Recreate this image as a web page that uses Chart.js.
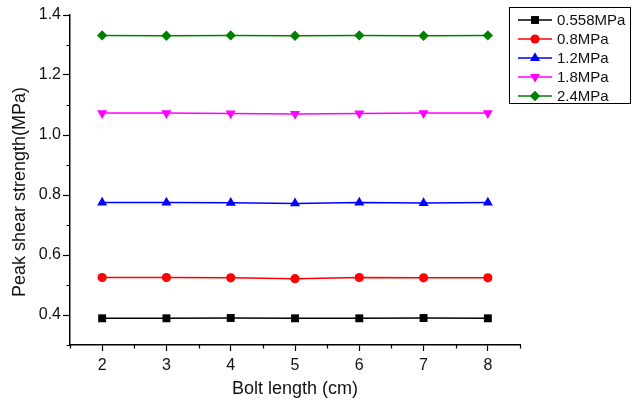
<!DOCTYPE html>
<html>
<head>
<meta charset="utf-8">
<script src="https://cdn.jsdelivr.net/npm/chart.js@4.4.1/dist/chart.umd.min.js"></script>
<style>
  html, body { margin: 0; padding: 0; background: #fff; }
  #wrap { width: 638px; height: 401px; position: relative; }
</style>
</head>
<body>
<div id="wrap"><canvas id="c"></canvas></div>
<script>
// bolt length on the x axis (cm)
const boltLengths = [2, 3, 4, 5, 6, 7, 8];

// peak shear strength (MPa) for each normal stress level
const s0558 = [0.389, 0.389, 0.390, 0.389, 0.389, 0.390, 0.389];
const s08   = [0.525, 0.525, 0.524, 0.521, 0.525, 0.524, 0.524];
const s12   = [0.775, 0.775, 0.774, 0.772, 0.775, 0.773, 0.775];
const s18   = [1.073, 1.073, 1.072, 1.070, 1.072, 1.073, 1.073];
const s24   = [1.332, 1.331, 1.332, 1.331, 1.332, 1.331, 1.332];

const seriesNames = ['0.558MPa', '0.8MPa', '1.2MPa', '1.8MPa', '2.4MPa'];
const seriesValues = [s0558, s08, s12, s18, s24];
const seriesColors = ['#000000', '#ff0000', '#0000ff', '#ff00ff', '#008000'];
const seriesMarkers = [
  { style: 'rect', radius: 5.6, rotation: 0 },
  { style: 'circle', radius: 4.6, rotation: 0 },
  { style: 'triangle', radius: 5.8, rotation: 0 },
  { style: 'triangle', radius: 5.8, rotation: 180 },
  { style: 'rectRot', radius: 5.2, rotation: 0 }
];

const yTitle = 'Peak shear strength(MPa)';
const xTitle = 'Bolt length (cm)';

const FONT = 'Arial, "Liberation Sans", sans-serif';

const datasets = seriesNames.map((name, i) => ({
  label: name,
  data: boltLengths.map((x, j) => ({ x: x, y: seriesValues[i][j] })),
  borderColor: seriesColors[i],
  backgroundColor: seriesColors[i],
  borderWidth: 1.5,
  pointStyle: seriesMarkers[i].style,
  pointRadius: seriesMarkers[i].radius,
  pointRotation: seriesMarkers[i].rotation,
  pointBorderWidth: 0,
  pointHoverRadius: seriesMarkers[i].radius,
  tension: 0
}));

const isMajorX = v => Math.abs(v - Math.round(v)) < 1e-6;
const isMajorY = v => Math.round(v * 10) % 2 === 0;

// short minor ticks drawn outside the axes
const minorTicks = {
  id: 'minorTicks',
  afterDraw(chart) {
    const ctx = chart.ctx;
    const xs = chart.scales.x, ys = chart.scales.y;
    ctx.save();
    ctx.strokeStyle = '#000';
    ctx.lineWidth = 1.2;
    ctx.beginPath();
    xs.ticks.forEach(t => {
      if (!isMajorX(t.value)) {
        const px = Math.round(xs.getPixelForValue(t.value)) + 0.5;
        ctx.moveTo(px, xs.top);
        ctx.lineTo(px, xs.top + 3.5);
      }
    });
    ys.ticks.forEach(t => {
      if (!isMajorY(t.value)) {
        const py = Math.round(ys.getPixelForValue(t.value)) + 0.5;
        ctx.moveTo(ys.right - 3.5, py);
        ctx.lineTo(ys.right, py);
      }
    });
    ctx.stroke();
    ctx.restore();
  }
};

// vertical axis title, sitting a little below the middle of the axis
const yAxisTitle = {
  id: 'yAxisTitle',
  afterDraw(chart) {
    const ctx = chart.ctx;
    ctx.save();
    ctx.translate(20, 192);
    ctx.rotate(-Math.PI / 2);
    ctx.font = '18px ' + FONT;
    ctx.fillStyle = '#111';
    ctx.textAlign = 'center';
    ctx.textBaseline = 'middle';
    ctx.fillText(yTitle, 0, 0);
    ctx.restore();
  }
};

// boxed legend in the upper right corner
const boxLegend = {
  id: 'boxLegend',
  afterDraw(chart) {
    const ctx = chart.ctx;
    const box = { x: 509.5, y: 7.5, w: 121, h: 96 };
    ctx.save();
    ctx.fillStyle = '#fff';
    ctx.fillRect(box.x, box.y, box.w, box.h);
    ctx.strokeStyle = '#000';
    ctx.lineWidth = 1;
    ctx.strokeRect(box.x, box.y, box.w, box.h);
    ctx.font = '15px ' + FONT;
    ctx.textBaseline = 'middle';
    chart.data.datasets.forEach((ds, i) => {
      const y = 20 + i * 19;
      ctx.strokeStyle = ds.borderColor;
      ctx.lineWidth = 1.5;
      ctx.beginPath();
      ctx.moveTo(518, y);
      ctx.lineTo(552, y);
      ctx.stroke();
      ctx.fillStyle = ds.backgroundColor;
      Chart.helpers.drawPoint(ctx, {
        pointStyle: ds.pointStyle,
        rotation: ds.pointRotation,
        radius: ds.pointRadius,
        borderWidth: 0
      }, 535, y);
      ctx.fillStyle = '#111';
      ctx.fillText(ds.label, 557, y + 1);
    });
    ctx.restore();
  }
};

new Chart(document.getElementById('c'), {
  type: 'line',
  data: { datasets: datasets },
  options: {
    responsive: true,
    maintainAspectRatio: false,
    animation: false,
    layout: { padding: { top: 15, right: 118, left: 0, bottom: 0 } },
    plugins: {
      legend: { display: false },
      tooltip: { enabled: false }
    },
    scales: {
      x: {
        type: 'linear',
        min: 1.5,
        max: 8.5,
        afterFit: s => { s.height = 56; },
        ticks: {
          stepSize: 0.5,
          autoSkip: false,
          maxRotation: 0,
          padding: 5,
          color: '#111',
          font: { family: FONT, size: 16 },
          callback: v => isMajorX(v) ? String(Math.round(v)) : ''
        },
        grid: {
          drawOnChartArea: false,
          drawTicks: true,
          tickLength: 6,
          tickWidth: 1.2,
          tickColor: c => (c.tick && isMajorX(c.tick.value)) ? '#000' : 'rgba(0,0,0,0)'
        },
        border: { color: '#000', width: 1.5 },
        title: {
          display: true,
          text: xTitle,
          color: '#111',
          font: { family: FONT, size: 18 },
          padding: { top: 0, bottom: 1 }
        }
      },
      y: {
        min: 0.3,
        max: 1.4,
        afterFit: s => { s.width = 70; },
        ticks: {
          stepSize: 0.1,
          autoSkip: false,
          padding: 2,
          color: '#111',
          font: { family: FONT, size: 16 },
          callback: v => (isMajorY(v) && v > 0.35) ? v.toFixed(1) : ''
        },
        grid: {
          drawOnChartArea: false,
          drawTicks: true,
          tickLength: 7,
          tickWidth: 1.2,
          tickColor: c => (c.tick && isMajorY(c.tick.value)) ? '#000' : 'rgba(0,0,0,0)'
        },
        border: { color: '#000', width: 1.5 }
      }
    }
  },
  plugins: [minorTicks, yAxisTitle, boxLegend]
});
</script>
</body>
</html>
